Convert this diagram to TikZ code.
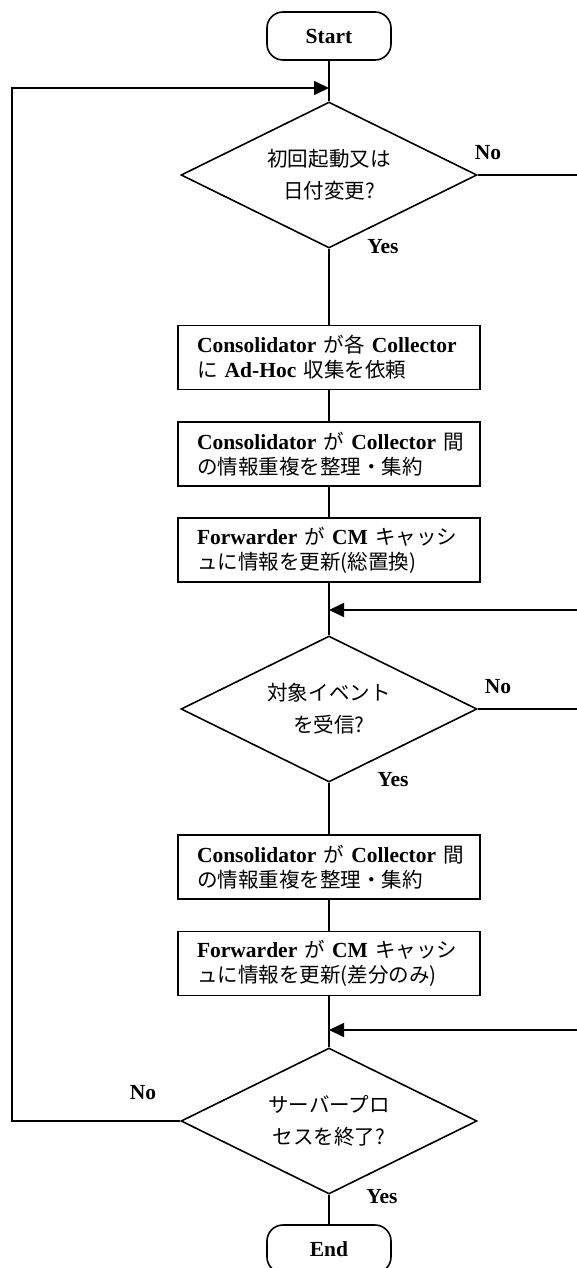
\documentclass[tikz,border=0pt]{standalone}
\usepackage{fontspec}
\setmainfont{Liberation Serif}
\newfontfamily\jpfont[Scale=0.955]{Noto Sans CJK JP}
\usetikzlibrary{shapes.geometric,arrows.meta}
\newcommand\jp[1]{{\jpfont\mdseries #1}}
\begin{document}
\begin{tikzpicture}[x=1pt,y=-1pt,line width=1.6pt,line join=miter,
  term/.style={draw, rounded corners=16pt, minimum width=124pt, minimum height=48pt, inner sep=0pt, font=\fontsize{21.5}{25}\selectfont\bfseries},
  proc/.style={draw, rectangle, minimum height=64pt, text width=264pt, inner xsep=19pt, inner ysep=0pt, align=left, font=\fontsize{21.5}{25}\selectfont\bfseries},
  dec/.style={draw, diamond, aspect=2, minimum width=296pt, minimum height=146pt, inner sep=0pt, align=center, font=\fontsize{21.5}{32}\selectfont\bfseries},
  lbl/.style={inner sep=0pt, font=\fontsize{21.5}{25}\selectfont\bfseries},
  flow/.style={-{Triangle[length=15pt,width=14pt]}}]
\useasboundingbox (0,0) rectangle (576,1268);

\node[term] (start) at (329,36) {Start};
\node[dec] (d1) at (329,175) {\jp{初回起動又は}\\\jp{日付変更?}};
\node[proc] (b1) at (329,357.5) {\mbox{Consolidator \jp{が各} Collector}\\\mbox{\jp{に} Ad-Hoc \jp{収集を依頼}}};
\node[proc] (b2) at (329,454) {\mbox{Consolidator \jp{が} Collector \jp{間}}\\\mbox{\jp{の情報重複を整理・集約}}};
\node[proc] (b3) at (329,550) {\mbox{Forwarder \jp{が} CM \jp{キャッシ}}\\\mbox{\jp{ュに情報を更新(総置換)}}};
\node[dec] (d2) at (329,709) {\jp{対象イベント}\\\jp{を受信?}};
\node[proc] (b4) at (329,867) {\mbox{Consolidator \jp{が} Collector \jp{間}}\\\mbox{\jp{の情報重複を整理・集約}}};
\node[proc] (b5) at (329,963.5) {\mbox{Forwarder \jp{が} CM \jp{キャッシ}}\\\mbox{\jp{ュに情報を更新(差分のみ)}}};
\node[dec] (d3) at (329,1121) {\jp{サーバープロ}\\\jp{セスを終了?}};
\node[term] (end) at (329,1249) {End};

\node[lbl] (no1) at (488,153) {No};
\node[lbl] (yes1) at (383,247) {Yes};
\node[lbl] (no2) at (498,687) {No};
\node[lbl] (yes2) at (393,780) {Yes};
\node[lbl] (no3) at (143,1093) {No};
\node[lbl] (yes3) at (382,1197) {Yes};

\coordinate (j1) at (329,88);
\coordinate (j2) at (329,610);
\coordinate (j3) at (329,1030);
\coordinate (r1) at (600,175);
\coordinate (r2) at (600,610);
\coordinate (r3) at (600,709);
\coordinate (r4) at (600,1030);
\coordinate (l1) at (12,1121);
\coordinate (l2) at (12,88);

\draw (start.south) -- (d1.north);
\draw (d1.south) -- (b1.north);
\draw (b1.south) -- (b2.north);
\draw (b2.south) -- (b3.north);
\draw (b3.south) -- (d2.north);
\draw (d2.south) -- (b4.north);
\draw (b4.south) -- (b5.north);
\draw (b5.south) -- (d3.north);
\draw (d3.south) -- (end.north);

\draw[flow] (d1.east) -- (r1) -- (r2) -- (j2);
\draw[flow] (d2.east) -- (r3) -- (r4) -- (j3);
\draw[flow] (d3.west) -- (l1) -- (l2) -- (j1);
\end{tikzpicture}
\end{document}
